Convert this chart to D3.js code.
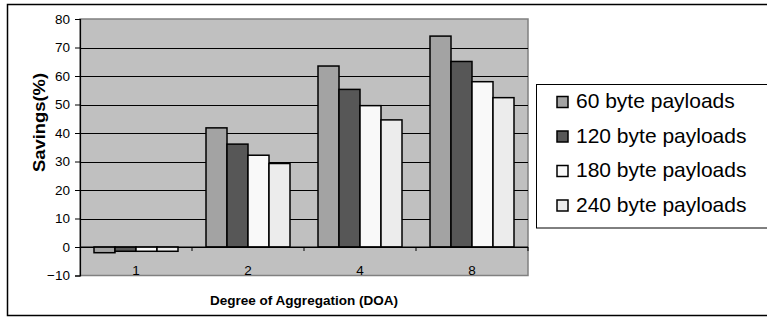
<!DOCTYPE html>
<html>
<head>
<meta charset="utf-8">
<script src="https://cdn.jsdelivr.net/npm/d3@7"></script>
<style>
  html, body { margin: 0; padding: 0; background: #fff; }
  svg { display: block; font-family: "Liberation Sans", Arial, sans-serif; }
</style>
</head>
<body>
<svg id="chart" width="767" height="317"></svg>
<script>
const categories = ["1", "2", "4", "8"];
const seriesNames = ["60 byte payloads", "120 byte payloads", "180 byte payloads", "240 byte payloads"];
const values60  = [-2.0, 41.8, 63.5, 74.0];
const values120 = [-1.5, 36.1, 55.3, 65.1];
const values180 = [-1.5, 32.2, 49.6, 58.0];
const values240 = [-1.5, 29.3, 44.6, 52.4];
const seriesValues = [values60, values120, values180, values240];
const seriesColors = ["#a3a3a3", "#575757", "#f9f9f9", "#ececec"];
const yTicks = [-10, 0, 10, 20, 30, 40, 50, 60, 70, 80];

const svg = d3.select("#chart");
const plot = { left: 80, right: 528, top: 19, bottom: 275.5 };

// outer frame
svg.append("rect").attr("x", 7.5).attr("y", 4.5).attr("width", 775).attr("height", 311)
  .attr("fill", "#fff").attr("stroke", "#000").attr("stroke-width", 1.5);

const y = d3.scaleLinear().domain([-10, 80]).range([plot.bottom, plot.top]);
const x0 = d3.scaleBand().domain(categories).range([plot.left, plot.right])
  .paddingInner(0.25).paddingOuter(0.125);
const x1 = d3.scaleBand().domain(d3.range(seriesNames.length)).range([0, x0.bandwidth()]);

// plot background
svg.append("rect").attr("x", plot.left).attr("y", plot.top)
  .attr("width", plot.right - plot.left).attr("height", plot.bottom - plot.top)
  .attr("fill", "#c0c0c0").attr("stroke", "#808080").attr("stroke-width", 1.5);

// gridlines
svg.append("g").selectAll("line").data(yTicks.filter(t => t > -10 && t < 80)).join("line")
  .attr("x1", plot.left).attr("x2", plot.right)
  .attr("y1", d => Math.round(y(d)) + 0.5).attr("y2", d => Math.round(y(d)) + 0.5)
  .attr("stroke", "#000").attr("stroke-width", 1);

// y axis
const yAxis = d3.axisLeft(y).tickValues(yTicks).tickSize(5).tickPadding(5);
const yg = svg.append("g").attr("transform", `translate(${plot.left},0)`).call(yAxis);
yg.select(".domain").attr("stroke", "#000").attr("stroke-width", 1.2);
yg.selectAll(".tick line").attr("stroke", "#000");
yg.selectAll(".tick text").attr("font-size", 13.5).attr("fill", "#000")
  .attr("font-family", "Liberation Sans, Arial, sans-serif");

// bars
const groups = svg.append("g").selectAll("g").data(categories).join("g")
  .attr("transform", d => `translate(${x0(d)},0)`);
groups.selectAll("rect").data((c, ci) => seriesValues.map((vals, si) => ({ si, v: vals[ci] })))
  .join("rect")
  .attr("x", d => x1(d.si))
  .attr("width", x1.bandwidth())
  .attr("y", d => y(Math.max(0, d.v)))
  .attr("height", d => Math.abs(y(d.v) - y(0)))
  .attr("fill", d => seriesColors[d.si])
  .attr("stroke", "#000").attr("stroke-width", 1.5);

// x axis line at zero with boundary ticks
const xg = svg.append("g").attr("transform", `translate(0,${y(0)})`);
xg.append("line").attr("x1", plot.left).attr("x2", plot.right).attr("y1", 0).attr("y2", 0)
  .attr("stroke", "#000").attr("stroke-width", 1);
const step = x0.step();
const boundaries = categories.map((c, i) => x0(c) - x0.paddingInner() * step / 2 + step);
xg.selectAll("line.b").data(boundaries).join("line").attr("class", "b")
  .attr("x1", d => d).attr("x2", d => d).attr("y1", 0).attr("y2", 4)
  .attr("stroke", "#000").attr("stroke-width", 1);

// category labels
svg.append("g").selectAll("text").data(categories).join("text")
  .attr("x", d => x0(d) + x0.bandwidth() / 2)
  .attr("y", 275)
  .attr("text-anchor", "middle").attr("font-size", 13.5).attr("fill", "#000")
  .text(d => d);

// axis titles
svg.append("text").attr("x", 304).attr("y", 305)
  .attr("text-anchor", "middle").attr("font-weight", "bold").attr("font-size", 12.5)
  .attr("textLength", 188).attr("lengthAdjust", "spacingAndGlyphs")
  .text("Degree of Aggregation (DOA)");
svg.append("text").attr("transform", "translate(45,122.5) rotate(-90)")
  .attr("text-anchor", "middle").attr("font-weight", "bold").attr("font-size", 17)
  .attr("textLength", 99).attr("lengthAdjust", "spacingAndGlyphs")
  .text("Savings(%)");

// legend
const lg = svg.append("g");
lg.append("rect").attr("x", 536.5).attr("y", 84.5).attr("width", 240).attr("height", 143.5)
  .attr("fill", "#fff").attr("stroke", "#000").attr("stroke-width", 1);
const items = lg.selectAll("g").data(seriesNames).join("g")
  .attr("transform", (d, i) => `translate(0,${108 + i * 34.5})`);
items.append("rect").attr("x", 557).attr("y", -11.5).attr("width", 11).attr("height", 11)
  .attr("fill", (d, i) => seriesColors[i]).attr("stroke", "#000").attr("stroke-width", 1.5);
items.append("text").attr("x", 576).attr("y", 0).attr("font-size", 21).attr("fill", "#000")
  .text(d => d);
</script>
</body>
</html>
